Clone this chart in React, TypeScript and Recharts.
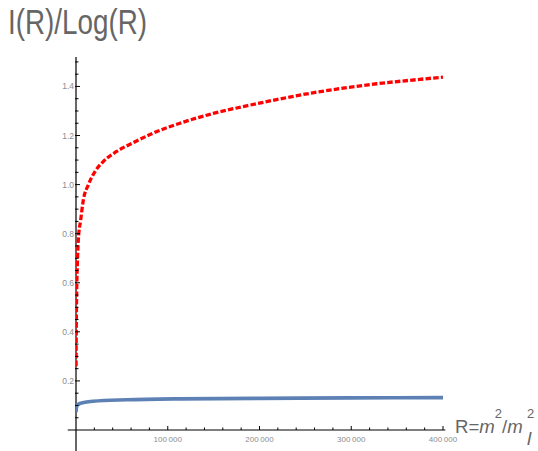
import { LineChart, Line, XAxis, YAxis, ReferenceLine } from "recharts";

// I(R)/Log(R) against R, two curves
const redR = [50, 300, 800, 1500, 2500, 5100, 8000, 13400, 20700, 29700, 44300, 62400, 84200, 113300, 149600, 186000, 222200, 258000, 291200, 327500, 363800, 400000];
const redI = [0.26, 0.42, 0.58, 0.68, 0.774, 0.856, 0.937, 0.999, 1.053, 1.094, 1.135, 1.171, 1.21, 1.25, 1.29, 1.321, 1.349, 1.374, 1.393, 1.411, 1.425, 1.438];

const blueR = [50, 500, 1500, 4400, 10000, 18800, 55200, 113000, 200000, 300000, 400000];
const blueI = [0.073, 0.092, 0.101, 0.108, 0.113, 0.117, 0.123, 0.127, 0.129, 0.131, 0.132];

const xMajor = [100000, 200000, 300000, 400000];
const xMajorLabels = ["100\u2009000", "200\u2009000", "300\u2009000", "400\u2009000"];
const xMinor = [20000, 40000, 60000, 80000, 120000, 140000, 160000, 180000, 220000, 240000, 260000, 280000, 320000, 340000, 360000, 380000];

const yMajor = [0.2, 0.4, 0.6, 0.8, 1.0, 1.2, 1.4];
const yMajorLabels = ["0.2", "0.4", "0.6", "0.8", "1.0", "1.2", "1.4"];
const yMinor = [0.05, 0.1, 0.15, 0.25, 0.3, 0.35, 0.45, 0.5, 0.55, 0.65, 0.7, 0.75, 0.85, 0.9, 0.95, 1.05, 1.1, 1.15, 1.25, 1.3, 1.35, 1.45, 1.5];

const redData = redR.map((r, i) => ({ r, v: redI[i] }));
const blueData = blueR.map((r, i) => ({ r, v: blueI[i] }));

const TICK_FONT = "'Liberation Sans Narrow', 'Liberation Sans', Arial, sans-serif";
const TICK_COLOR = "#8c8c8c";

function XTick(props: any) {
  const { x, y, payload } = props;
  const idx = xMajor.indexOf(payload.value);
  const major = idx >= 0;
  return (
    <g>
      <line x1={x} x2={x} y1={y} y2={y - (major ? 4 : 2.5)} stroke="#000" strokeWidth={1} />
      {major && (
        <text x={x} y={y + 12} textAnchor="middle" fontSize={8} fill={TICK_COLOR} fontFamily={TICK_FONT}>
          {xMajorLabels[idx]}
        </text>
      )}
    </g>
  );
}

function YTick(props: any) {
  const { x, y, payload } = props;
  const idx = yMajor.indexOf(payload.value);
  const major = idx >= 0;
  return (
    <g>
      <line x1={x - 1} x2={x + (major ? 4 : 2.5)} y1={y} y2={y} stroke="#000" strokeWidth={1} />
      {major && (
        <text x={x - 2} y={y + 3} textAnchor="end" fontSize={8.5} fill={TICK_COLOR} fontFamily={TICK_FONT}>
          {yMajorLabels[idx]}
        </text>
      )}
    </g>
  );
}

export default function App() {
  return (
    <div style={{ position: "absolute", left: 0, top: 0, width: 538, height: 451, background: "#fff" }}>
      <LineChart width={538} height={451} margin={{ top: 57, right: 95, bottom: 0, left: 0 }}>
        <XAxis
          type="number"
          dataKey="r"
          domain={[0, 400000]}
          ticks={[...xMinor, ...xMajor].sort((a, b) => a - b)}
          interval={0}
          allowDataOverflow
          axisLine={false}
          tickLine={false}
          tickSize={0}
          tickMargin={0}
          height={21}
          tick={<XTick />}
        />
        <YAxis
          type="number"
          domain={[0, 1.52]}
          ticks={[...yMinor, ...yMajor].sort((a, b) => a - b)}
          interval={0}
          allowDataOverflow
          axisLine={false}
          tickLine={false}
          tickSize={0}
          tickMargin={0}
          width={76}
          tick={<YTick />}
        />
        <ReferenceLine segment={[{ x: -9000, y: 0 }, { x: 402500, y: 0 }]} stroke="#000" strokeWidth={1.2} ifOverflow="visible" />
        <ReferenceLine segment={[{ x: 0, y: -0.09 }, { x: 0, y: 1.52 }]} stroke="#000" strokeWidth={1.2} ifOverflow="visible" />
        <Line
          data={blueData}
          dataKey="v"
          type="monotone"
          stroke="#5E81B5"
          strokeWidth={3.6}
          dot={false}
          activeDot={false}
          isAnimationActive={false}
        />
        <Line
          data={redData}
          dataKey="v"
          type="monotone"
          stroke="#FF0000"
          strokeWidth={3.3}
          strokeDasharray="5.5 2.2"
          dot={false}
          activeDot={false}
          isAnimationActive={false}
        />
      </LineChart>
      <svg width={538} height={451} style={{ position: "absolute", left: 0, top: 0, pointerEvents: "none" }}>
        <text x={8} y={34.3} fontSize={35} fill="#666" fontFamily={TICK_FONT} textLength={139} lengthAdjust="spacingAndGlyphs">
          I(R)/Log(R)
        </text>
        <text fontSize={18.6} fill="#666" fontFamily={TICK_FONT}>
          <tspan x={455} y={433.3}>R=</tspan>
          <tspan fontStyle="italic">m</tspan>
          <tspan y={418.3} fontSize={13}>2</tspan>
          <tspan y={433.3}>/</tspan>
          <tspan fontStyle="italic">m</tspan>
          <tspan x={527} y={445} fontStyle="italic" fontSize={19}>l</tspan>
          <tspan x={527} y={418.3} fontSize={13}>2</tspan>
        </text>
      </svg>
    </div>
  );
}
